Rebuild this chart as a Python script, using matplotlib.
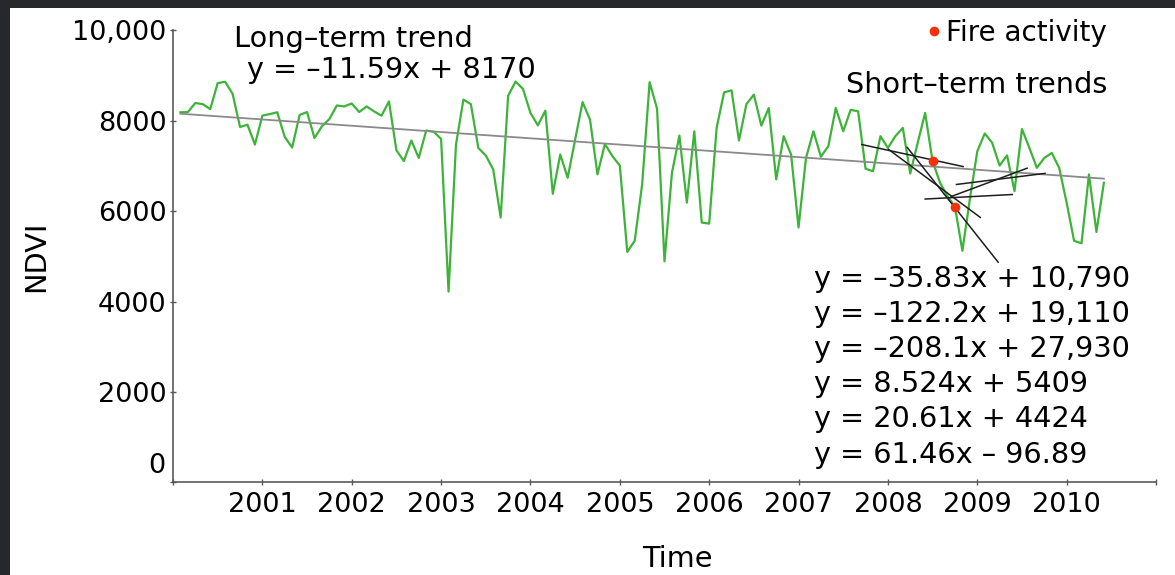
import numpy as np
import matplotlib.pyplot as plt
from matplotlib.patches import Rectangle
from matplotlib.transforms import offset_copy

plt.rcParams['font.family'] = 'DejaVu Sans'

# monthly NDVI, x = months since Jan 2000 (first value is Feb 2000)
ndvi = [8190, 8195, 8395, 8370, 8260, 8835, 8865, 8600, 7865, 7915, 7475, 8115,
        8150, 8190, 7645, 7410, 8130, 8195, 7620, 7880, 8040, 8340, 8320, 8385,
        8195, 8320, 8210, 8115, 8430, 7350, 7110,
        7565, 7180, 7785, 7760, 7600, 4220, 7475, 8470, 8370, 7400, 7235, 6925,
        5860, 8555, 8870, 8705, 8175, 7900, 8225, 6385, 7255, 6740, 7585, 8415,
        8025, 6815, 7490, 7220, 7010, 5100, 5345, 6595, 8855, 8270, 4890, 6850,
        7675,
        6190, 7770, 5750, 5725, 7845, 8630, 8675, 7565, 8370, 8580, 7895, 8285,
        6705, 7660, 7255, 5640, 7180, 7770, 7205, 7440, 8285, 7770, 8245, 8210,
        6940, 6885, 7660, 7400, 7660, 7845, 6835, 7515, 8175, 7105,
        6630, 6335, 6100, 5125, 6260, 7325, 7720, 7515, 7010, 7235, 6445, 7820,
        7400, 6960, 7180, 7290, 6960, 6190, 5345, 5290, 6815, 5540, 6630]
months = np.arange(1, len(ndvi) + 1)

# long-term trend
long_slope = -11.59
long_icpt = 8170

# short-term trends and the months they span
short_slope = [-35.83, -122.2, -208.1, 8.524, 20.61, 61.46]
short_icpt = [10790, 19110, 27930, 5409, 4424, -96.89]
short_start = [92.5, 96.1, 98.6, 101.0, 105.2, 104.5]
short_end = [106.1, 108.4, 110.8, 112.7, 117.1, 114.7]
short_text = ['y = –35.83x + 10,790', 'y = –122.2x + 19,110', 'y = –208.1x + 27,930',
              'y = 8.524x + 5409', 'y = 20.61x + 4424', 'y = 61.46x – 96.89']

fire_months = [102, 105]

x_ticks = np.arange(0, 133, 12)
x_labels = [''] + [str(y) for y in range(2001, 2011)] + ['']
y_ticks = [0, 2000, 4000, 6000, 8000, 10000]
y_labels = ['', '2000', '4000', '6000', '8000', '10,000']

W, H = 1175, 575
fig = plt.figure(figsize=(W / 100, H / 100), dpi=100, facecolor='#26282c')
fig.add_artist(Rectangle((10 / W, 0), 1, 1 - 8 / H, transform=fig.transFigure,
                         facecolor='white', edgecolor='none', zorder=-1))

ax = fig.add_axes([173 / W, 1 - 482.3 / H, (1156 - 173) / W, (482.3 - 30.5) / H])
ax.set_facecolor('none')

ax.plot(months, ndvi, color='#3db33a', lw=1.6, zorder=2)

trend_x = np.array([months[0], months[-1]])
ax.plot(trend_x, long_slope * trend_x + long_icpt, color='#8a8a8a', lw=1.3, zorder=3)

for s, b, x0, x1 in zip(short_slope, short_icpt, short_start, short_end):
    xs = np.array([x0, x1])
    ax.plot(xs, s * xs + b, color='#1e1e1e', lw=1.1, zorder=4)

fire_y = [ndvi[m - 1] for m in fire_months]
ax.plot(fire_months, fire_y, 'o', color='#f5300c', ms=7, mec='none', zorder=5,
        label='Fire activity')

ax.set_xlim(0, 132)
ax.set_ylim(0, 10000)
ax.set_xticks(x_ticks)
ax.set_xticklabels(x_labels)
ax.set_yticks(y_ticks)
ax.set_yticklabels(y_labels)

for side in ['top', 'right']:
    ax.spines[side].set_visible(False)
for side in ['left', 'bottom']:
    ax.spines[side].set_color('#5a5a5a')
    ax.spines[side].set_linewidth(1.2)
ax.tick_params(direction='inout', length=4, width=1, color='#5a5a5a', labelsize=19.5)
ax.tick_params(axis='x', pad=5.3)
ax.tick_params(axis='y', pad=2.6)

# the zero label sits a bit above the axis
ax.text(0, 0, '0', fontsize=19.5, ha='right', va='center_baseline',
        transform=offset_copy(ax.transData, fig=fig, x=-7.5, y=19, units='dots'))

fs = 20.7
ax.text(8.15, 9641, 'Long–term trend', fontsize=fs, ha='left', va='baseline')
ax.text(9.94, 8942, 'y = –11.59x + 8170', fontsize=fs, ha='left', va='baseline')
ax.text(125.5, 8610, 'Short–term trends', fontsize=fs, ha='right', va='baseline')

line_step = 779
for i, t in enumerate(short_text):
    ax.text(86.1, 4329 - i * line_step, t, fontsize=fs, ha='left', va='baseline', zorder=6)

ax.legend(loc='upper right', bbox_to_anchor=(1107 / W, 1 - 19 / H),
          bbox_transform=fig.transFigure, frameon=False, borderpad=0, borderaxespad=0,
          handlelength=0.5, handletextpad=0.2, fontsize=20)

fig.text(36.5 / W, 1 - 256 / H, 'NDVI', rotation=90, ha='center', va='center', fontsize=fs)
fig.text(677 / W, 1 - 566.7 / H, 'Time', ha='center', va='baseline', fontsize=fs)

fig.savefig('out.png', dpi=100, facecolor=fig.get_facecolor())
